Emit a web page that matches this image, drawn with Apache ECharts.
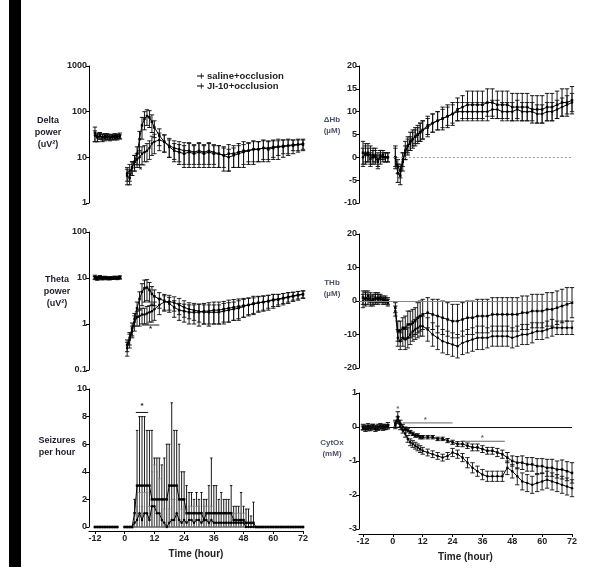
<!DOCTYPE html>
<html><head><meta charset="utf-8">
<script src="https://cdn.jsdelivr.net/npm/echarts@6/dist/echarts.min.js"></script>
<style>html,body{margin:0;padding:0;background:#fff}#c{width:600px;height:581px}</style>
</head><body><div id="c"></div><script>
// ---------- time points ----------
const preHours = [-12,-11,-10,-9,-8,-7,-6,-5,-4,-3,-2];
const postHours = [1,2,3,4,5,6,7,8,9,10,11,12,14,16,18,20,22,24,26,28,30,32,34,36,38,40,42,44,46,48,50,52,54,56,58,60,62,64,66,68,70,72];
const seizurePreHours = [-12,-11,-10,-9,-8,-7,-6,-5,-4,-3];
const seizureHours = [0,1,2,3,4,5,6,7,8,9,10,11,12,13,14,15,16,17,18,19,20,21,22,23,24,25,26,27,28,29,30,31,32,33,34,35,36,37,38,39,40,41,42,43,44,45,46,47,48,49,50,51,52,53,54,55,56,57,58,59,60,61,62,63,64,65,66,67,68,69,70,71,72];
const timeTicks = [-12,0,12,24,36,48,60,72];
const seriesNames = ['saline+occlusion','JI-10+occlusion'];

// ---------- Delta power (uV^2) ----------
const deltaSalinePre = [34,28,30,27,29,28,27,28,29,28,30];
const deltaSalinePreErr = [12,6,5,5,4,4,4,4,4,4,4];
const deltaJIPre = [30,27,29,28,27,29,28,28,27,29,28];
const deltaJIPreErr = [8,5,4,4,4,4,3,3,3,3,3];
const deltaSaline = [4,3.5,6,8,12,25,50,70,80,75,60,45,30,22,17,14,13,12,13,12,13,12,13,12,12,11,12,12,13,14,14,15,15,16,15,16,17,17,18,18,19,19];
const deltaSalineErr = [1.5,1,2,3,5,12,25,30,30,30,25,18,12,9,7,6,6,6,7,6,7,6,7,6,6,6,7,6,7,8,7,8,7,8,7,7,8,7,7,6,6,5];
const deltaJI = [4.5,5,6,8,9,10,12,13,14,16,20,22,24,22,18,16,15,14,14,13,14,13,14,13,12,11,10,11,12,13,14,15,15,16,16,17,17,18,18,19,19,20];
const deltaJIErr = [1.5,2,2,3,3,4,5,5,6,7,9,10,10,9,8,7,7,7,7,6,7,6,7,6,6,5,5,5,6,6,6,7,7,7,7,7,6,6,6,5,5,5];

// ---------- Theta power (uV^2) ----------
const thetaSalinePre = [10.5,10,10.5,10,10.2,10,9.8,10,10.3,10,10.5];
const thetaSalinePreErr = [1,0.8,0.8,0.8,0.7,0.7,0.7,0.7,0.7,0.7,0.7];
const thetaJIPre = [10,9.6,10,9.8,10,9.7,10,9.9,10,9.8,10];
const thetaJIPreErr = [0.8,0.7,0.7,0.7,0.6,0.6,0.6,0.6,0.6,0.6,0.6];
const thetaSaline = [0.35,0.5,0.8,1.3,2.2,3.5,5,6,6.2,5.5,4.5,4,3.5,3.2,2.8,2.3,2,1.9,1.8,1.8,1.8,1.9,1.9,2,2,2.1,2.2,2.3,2.4,2.5,2.6,2.8,2.9,3,3.1,3.3,3.4,3.6,3.8,4,4.2,4.4];
const thetaSalineErr = [0.1,0.15,0.25,0.4,0.8,1.5,2.5,3,3,2.5,2,1.5,1.3,1.2,1,0.9,0.8,0.8,0.8,0.8,0.9,0.9,1,1,1,1,1.1,1.1,1.1,1.1,1.1,1.2,1.1,1.1,1.1,1.1,1,1,1,0.9,0.9,0.8];
const thetaJI = [0.3,0.45,0.7,1.1,1.4,1.5,1.6,1.6,1.7,1.8,1.9,2.1,2.6,3,3.1,2.9,2.6,2.3,2.1,2,1.9,1.8,1.8,1.8,1.8,1.9,2,2.1,2.2,2.4,2.6,2.7,2.9,3,3.2,3.4,3.5,3.7,3.9,4.1,4.3,4.5];
const thetaJIErr = [0.1,0.15,0.2,0.4,0.5,0.6,0.6,0.6,0.7,0.7,0.8,0.9,1,1.1,1.1,1,1,0.9,0.8,0.8,0.8,0.8,0.8,0.8,0.8,0.9,0.9,0.9,1,1,1,1,1,1,1,1,0.9,0.9,0.9,0.8,0.8,0.8];

// ---------- Seizures per hour ----------
const seizureSalinePre = [0,0,0,0,0,0,0,0,0,0];
const seizureJIPre = [0,0,0,0,0,0,0,0,0,0];
const seizurePreErr = [0,0,0,0,0,0,0,0,0,0];
const seizureSaline = [0,0,0,0,1,3,3,3,3,3,3,2,2,2,2,2,2,2,3,3,3,3,2,2,2,1,1,1,1,1,1,1,0.5,1,1,1,1,1,1,1,1,1,1,1,0.5,0.5,0.5,0.5,0.5,0.3,0.3,0.3,0.3,0,0,0,0,0,0,0,0,0,0,0,0,0,0,0,0,0,0,0,0];
const seizureSalineErr = [0,0,0,0,1,4,5,5,5,4,4,5,3,3,3,2.5,3,4,3,6,4,4,4,2,2,2,1.5,1.5,1,1.5,1,1.5,1.5,1,2,4,2,2,1,1.5,1,1,1,2,1,1,1,2,1,1,1,0.5,1.5,0,0,0,0,0,0,0,0,0,0,0,0,0,0,0,0,0,0,0,0];
const seizureJI = [0,0,0,0,0.3,0.5,1,0.5,1,1,0.5,1.5,1.5,1,1,0.5,0.3,0,0.3,0.5,0.5,1,0.5,0.3,0.5,0.3,0.5,0.5,0.3,0.5,0.5,0.3,0.5,0.5,0.3,0.5,0.3,0.3,0.3,0.3,0.3,0.3,0.3,0.3,0.3,0.3,0.3,0.3,0.3,0,0,0,0,0,0,0,0,0,0,0,0,0,0,0,0,0,0,0,0,0,0,0,0];
const seizureJIErr = [0,0,0,0,0.5,1,1.5,1,1.5,1.5,1,2.5,3,3,2.5,1.5,1,0,1,1.5,1.5,2,1.5,1,1,1,1,1,0.7,1,1,0.7,1,1,0.7,1,0.7,0.7,0.7,0.7,0.7,0.7,0.7,0.7,0.7,0.7,0.7,0.7,0.7,0,0,0,0,0,0,0,0,0,0,0,0,0,0,0,0,0,0,0,0,0,0,0,0];

// ---------- ΔHb (µM) ----------
const hbSalinePre = [1,0.5,1,0.5,0,0.5,-0.5,0,0.5,0,0];
const hbSalinePreErr = [2.5,2,2,2,1.5,1.5,1.5,1.5,1,1,1];
const hbJIPre = [0,1,0.5,-0.5,0.5,0,-1,0.5,0,0,0];
const hbJIPreErr = [2,2,1.5,1.5,1.5,1.5,1.5,1,1,1,1];
const hbSaline = [0,-3.5,-4,-1,1.5,2.5,3.5,4,4.5,5,5.5,6,7,7.5,8,8.5,9,9.5,10.5,11,11.5,11.5,11.5,11.5,12,12,11.5,11.5,11.5,11,11,11,11,10.5,10.5,10.5,11,11,11.5,12,12,12.5];
const hbSalineErr = [2.5,2,2,2,2,2,2,2,2,2,2,2,2,2,2,2.5,2.5,2.5,2.5,2.5,3,3,3,3,3,3,3,3,3,3,3,3,3,3,3,3,3,3,3,3,3,3];
const hbJI = [0,-2,-3,-0.5,1,2.5,3,4,4.5,5,5.5,6,6.5,7.5,8,8.5,9,9.5,10,10,10,10,10,10,10,10.5,10.5,10,10,10,10.5,10,10,10,9.5,9.5,10,10,10.5,11,11.5,12];
const hbJIErr = [2,1.5,1.5,1.5,1.5,1.5,1.5,1.5,1.5,1.5,2,2,2,2,2,2,2,2,2,2,2,2,2,2,2,2,2,2,2,2,2,2,2,2,2,2,2,2,2,2,2,2];

// ---------- THb (µM) ----------
const thbSalinePre = [1,0.5,1.5,0,0.5,1,0.5,1,0,0.5,-0.5];
const thbSalinePreErr = [2,2,1.5,1.5,1.5,1.5,1.5,1,1,1,1];
const thbJIPre = [0,1,0.5,1,0,0.5,1,0.5,0.5,0,0];
const thbJIPreErr = [2,2,1.5,1.5,1.5,1.5,1.5,1,1,1,1];
const thbSaline = [-2,-9,-9,-8,-8,-7,-7,-6.5,-6,-5,-4.5,-4,-3.5,-4,-4.5,-5,-5.5,-6,-6,-5.5,-5,-5,-4.5,-4.5,-4.5,-4,-4,-4,-4,-4,-4,-3.5,-3.5,-3,-3,-3,-2.5,-2.5,-2,-1.5,-1,-0.5];
const thbSalineErr = [1.5,3,3,3,3.5,4,4,4,4,4.5,4.5,4.5,4.5,4.5,5,5,5,5,5,5,5,5,5,5,5,5,5,5,5,5,5,5,5,5,5,5,5,5,5,5,5,4.5];
const thbJI = [-3,-11,-12,-11,-11.5,-11,-10,-9,-8.5,-8,-7.5,-7.5,-8.5,-10,-11,-12,-12.5,-13,-13.5,-12.5,-12,-11.5,-11,-11,-11,-10.5,-10.5,-10.5,-10.5,-11,-10.5,-10,-10,-9.5,-9,-9,-8.5,-8,-8,-8,-8,-8];
const thbJIErr = [1.5,2.5,2.5,2.5,3,3,3,3,3,3,3,3,3.5,3.5,3.5,3.5,3.5,3.5,3.5,3.5,3.5,3.5,3.5,3.5,3,3,3,3,3,3,3,3,3,3,2.5,2.5,2.5,2.5,2,2,2,2];

// ---------- CytOx (mM) ----------
const cytSalinePre = [0,-0.05,0.02,-0.03,0,-0.05,0,0.02,-0.02,0,0.05];
const cytSalinePreErr = [0.08,0.08,0.08,0.08,0.08,0.08,0.08,0.08,0.08,0.08,0.08];
const cytJIPre = [-0.03,0,-0.05,0,0.02,-0.02,-0.04,0,0.02,-0.01,0];
const cytJIPreErr = [0.06,0.06,0.06,0.06,0.06,0.06,0.06,0.06,0.06,0.06,0.06];
const cytSaline = [0.1,0.3,0.1,0,-0.05,-0.1,-0.15,-0.2,-0.25,-0.25,-0.3,-0.3,-0.3,-0.3,-0.35,-0.35,-0.4,-0.45,-0.5,-0.5,-0.55,-0.6,-0.6,-0.65,-0.7,-0.7,-0.75,-0.8,-0.9,-1,-1.05,-1.05,-1.1,-1.1,-1.15,-1.15,-1.2,-1.2,-1.25,-1.25,-1.3,-1.35];
const cytSalineErr = [0.1,0.15,0.1,0.08,0.05,0.05,0.05,0.05,0.05,0.05,0.05,0.05,0.05,0.05,0.05,0.05,0.06,0.06,0.07,0.08,0.08,0.1,0.1,0.1,0.1,0.1,0.12,0.12,0.15,0.15,0.18,0.2,0.2,0.2,0.22,0.22,0.25,0.25,0.25,0.28,0.28,0.3];
const cytJI = [0.05,0.2,0,-0.1,-0.2,-0.35,-0.45,-0.5,-0.55,-0.6,-0.65,-0.7,-0.75,-0.8,-0.85,-0.9,-0.85,-0.75,-0.8,-0.9,-1.05,-1.2,-1.3,-1.4,-1.45,-1.45,-1.45,-1.45,-1.2,-1.3,-1.45,-1.6,-1.65,-1.7,-1.65,-1.6,-1.55,-1.6,-1.65,-1.7,-1.75,-1.8];
const cytJIErr = [0.1,0.1,0.08,0.08,0.1,0.1,0.1,0.1,0.1,0.1,0.1,0.1,0.1,0.1,0.1,0.1,0.1,0.12,0.12,0.12,0.15,0.15,0.15,0.15,0.15,0.15,0.15,0.15,0.2,0.2,0.25,0.25,0.25,0.25,0.25,0.25,0.25,0.25,0.25,0.25,0.25,0.25];

// ---------- significance marks [tStart, tEnd, level, starT, starLevel] ----------
const deltaSig = [[4.4, 8.4, 6.8, 6.4, 5.4]];
const thetaSig = [[7, 14, 0.95, 10.5, 0.8]];
const seizureSig = [[4.5, 9.5, 8.3, 7, 8.8]];
const cytSig = [[null, null, null, 2, 0.55], [4, 24, 0.12, 13, 0.22], [28, 45, -0.42, 36, -0.32]];
// baseline (zero) reference lines for haemodynamic panels [tStart, tEnd, level]
const hbBaseline = [0, 72, 0];
const thbBaseline = [-13.6, 72, 0];
const cytBaseline = [-12, 72, 0];

// ================= chart construction =================
const FONT = '"Liberation Sans", Arial, sans-serif';
const LEFT_MIN = -14.4, RIGHT_MIN = -13.6, XMAX = 72;

function errData(hours, mean, err, isLog, floor) {
  const out = [];
  hours.forEach((h, i) => {
    if (!err[i]) return;
    let lo = mean[i] - err[i];
    if (isLog) lo = Math.max(lo, mean[i] * 0.3);
    if (floor !== undefined) lo = Math.max(lo, floor);
    out.push([h, lo, mean[i] + err[i]]);
  });
  return out;
}
function lineData(preH, pre, postH, post) {
  const d = preH.map((h, i) => [h, pre[i]]);
  d.push([-1, '-']);
  postH.forEach((h, i) => d.push([h, post[i]]));
  return d;
}
function errSeries(idx, name, data, color, capW) {
  return {
    type: 'custom', name, xAxisIndex: idx, yAxisIndex: idx, clip: false, silent: true,
    encode: { x: 0, y: [1, 2] }, data, z: 2,
    renderItem: (params, api) => {
      const x = api.value(0);
      const a = api.coord([x, api.value(1)]), b = api.coord([x, api.value(2)]);
      const w = capW;
      const st = { stroke: color, lineWidth: 0.9 };
      return { type: 'group', children: [
        { type: 'line', shape: { x1: a[0], y1: a[1], x2: b[0], y2: b[1] }, style: st },
        { type: 'line', shape: { x1: a[0] - w, y1: a[1], x2: a[0] + w, y2: a[1] }, style: st },
        { type: 'line', shape: { x1: b[0] - w, y1: b[1], x2: b[0] + w, y2: b[1] }, style: st }
      ]};
    }
  };
}
function lineSeries(idx, name, data, symbol, extra) {
  return Object.assign({
    type: 'line', name, xAxisIndex: idx, yAxisIndex: idx, data, connectNulls: false,
    symbol, symbolSize: 2.5, showSymbol: true, z: 3, silent: true,
    lineStyle: { color: '#000', width: 1 }, itemStyle: { color: '#000' }
  }, extra || {});
}
function sigSeries(idx, marks, color) {
  return {
    type: 'custom', xAxisIndex: idx, yAxisIndex: idx, clip: false, silent: true, z: 4,
    data: marks.map((m, i) => [i]),
    renderItem: (params, api) => {
      const m = marks[params.dataIndex];
      const kids = [];
      if (m[0] !== null) {
        const a = api.coord([m[0], m[2]]), b = api.coord([m[1], m[2]]);
        kids.push({ type: 'line', shape: { x1: a[0], y1: a[1], x2: b[0], y2: b[1] }, style: { stroke: color, lineWidth: 1 } });
      }
      const s = api.coord([m[3], m[4]]);
      kids.push({ type: 'text', x: s[0], y: s[1], style: { text: '*', fill: color, font: 'bold 8px ' + FONT, align: 'center', verticalAlign: 'middle' } });
      return { type: 'group', children: kids };
    }
  };
}
function baseline(line, color, type) {
  return { symbol: 'none', silent: true, label: { show: false },
    lineStyle: { color, width: 1, type },
    data: [[{ coord: [line[0], line[2]] }, { coord: [line[1], line[2]] }]] };
}

const panels = [
  { grid: { left: 89, top: 66, width: 214, height: 137 }, xmin: LEFT_MIN, xShow: false,
    y: { type: 'log', min: 1, max: 1000 }, log: true, preH: preHours, postH: postHours, capW: 2.2,
    s: [deltaSalinePre, deltaSalinePreErr, deltaSaline, deltaSalineErr], j: [deltaJIPre, deltaJIPreErr, deltaJI, deltaJIErr], sig: deltaSig, sigColor: '#222' },
  { grid: { left: 89, top: 232, width: 214, height: 138 }, xmin: LEFT_MIN, xShow: false,
    y: { type: 'log', min: 0.1, max: 100 }, log: true, preH: preHours, postH: postHours, capW: 2.2,
    s: [thetaSalinePre, thetaSalinePreErr, thetaSaline, thetaSalineErr], j: [thetaJIPre, thetaJIPreErr, thetaJI, thetaJIErr], sig: thetaSig, sigColor: '#222' },
  { grid: { left: 89, top: 389, width: 214, height: 138 }, xmin: LEFT_MIN, xShow: true, xOffset: 4,
    y: { type: 'value', min: 0, max: 10, interval: 2 }, log: false, floor: 0, preH: seizurePreHours, postH: seizureHours, capW: 1.2,
    s: [seizureSalinePre, seizurePreErr, seizureSaline, seizureSalineErr], j: [seizureJIPre, seizurePreErr, seizureJI, seizureJIErr], sig: seizureSig, sigColor: '#111', jiErrColor: '#777' },
  { grid: { left: 359, top: 66, width: 213, height: 137 }, xmin: RIGHT_MIN, xShow: false,
    y: { type: 'value', min: -10, max: 20, interval: 5 }, log: false, preH: preHours, postH: postHours, capW: 2.2,
    s: [hbSalinePre, hbSalinePreErr, hbSaline, hbSalineErr], j: [hbJIPre, hbJIPreErr, hbJI, hbJIErr], base: baseline(hbBaseline, '#999', [2, 2]) },
  { grid: { left: 359, top: 234, width: 213, height: 134 }, xmin: RIGHT_MIN, xShow: false,
    y: { type: 'value', min: -20, max: 20, interval: 10 }, log: false, preH: preHours, postH: postHours, capW: 2.2,
    s: [thbSalinePre, thbSalinePreErr, thbSaline, thbSalineErr], j: [thbJIPre, thbJIPreErr, thbJI, thbJIErr], base: baseline(thbBaseline, '#888', 'solid') },
  { grid: { left: 359, top: 393, width: 213, height: 136 }, xmin: RIGHT_MIN, xShow: true, xOffset: 5,
    y: { type: 'value', min: -3, max: 1, interval: 1 }, log: false, preH: preHours, postH: postHours, capW: 2.2,
    s: [cytSalinePre, cytSalinePreErr, cytSaline, cytSalineErr], j: [cytJIPre, cytJIPreErr, cytJI, cytJIErr], sig: cytSig, sigColor: '#666', base: baseline(cytBaseline, '#111', 'solid') }
];

const grids = [], xAxes = [], yAxes = [], series = [];
const labelStyle = { fontSize: 9, fontWeight: 'bold', color: '#222', fontFamily: FONT };
panels.forEach((p, i) => {
  grids.push(Object.assign({ containLabel: false }, p.grid));
  xAxes.push({
    gridIndex: i, type: 'value', min: p.xmin, max: XMAX, show: p.xShow, offset: p.xOffset || 0,
    axisLine: { show: true, onZero: false, lineStyle: { color: '#000', width: 1 } },
    axisTick: { show: true, length: 3, customValues: timeTicks, lineStyle: { color: '#000' } },
    axisLabel: Object.assign({ customValues: timeTicks, margin: 3 }, labelStyle),
    splitLine: { show: false },
    name: 'Time (hour)', nameLocation: 'middle', nameGap: 18,
    nameTextStyle: { fontSize: 10, fontWeight: 'bold', color: '#222', fontFamily: FONT }
  });
  yAxes.push(Object.assign({
    gridIndex: i,
    axisLine: { show: true, onZero: false, lineStyle: { color: '#000', width: 1 } },
    axisTick: { show: true, length: 3, lineStyle: { color: '#000' } },
    axisLabel: Object.assign({ margin: 2, formatter: v => String(+Number(v).toPrecision(4)) }, labelStyle),
    splitLine: { show: false }, minorTick: { show: false }
  }, p.y));
  const jiErrColor = p.jiErrColor || '#111';
  series.push(errSeries(i, seriesNames[0], errData(p.preH, p.s[0], p.s[1], p.log, p.floor).concat(errData(p.postH, p.s[2], p.s[3], p.log, p.floor)), '#000', p.capW));
  series.push(errSeries(i, seriesNames[1], errData(p.preH, p.j[0], p.j[1], p.log, p.floor).concat(errData(p.postH, p.j[2], p.j[3], p.log, p.floor)), jiErrColor, p.capW));
  const ls = lineSeries(i, seriesNames[0], lineData(p.preH, p.s[0], p.postH, p.s[2]), 'rect');
  if (p.base) ls.markLine = p.base;
  series.push(ls);
  series.push(lineSeries(i, seriesNames[1], lineData(p.preH, p.j[0], p.postH, p.j[2]), 'circle'));
  if (p.sig) series.push(sigSeries(i, p.sig, p.sigColor));
});

function nameText(x, y, lines, color, size) {
  return { type: 'text', x, y, style: { text: lines.join('\n'), fill: color, font: 'bold ' + size + 'px ' + FONT, align: 'center', verticalAlign: 'middle', lineHeight: size + 3 } };
}

const option = {
  animation: false,
  backgroundColor: '#fff',
  grid: grids, xAxis: xAxes, yAxis: yAxes, series,
  legend: {
    data: seriesNames.map(n => ({ name: n, icon: 'path://M0,4H9V5H0Z M5,1H6V8H5Z' })),
    orient: 'vertical', left: 197, top: 71, padding: 0, itemWidth: 7, itemHeight: 6, itemGap: 0,
    selectedMode: false, inactiveColor: '#000',
    itemStyle: { color: '#000' },
    textStyle: { fontSize: 9.5, fontWeight: 'bold', color: '#222', fontFamily: FONT, padding: [0, 0, 0, -2] }
  },
  graphic: [
    { type: 'rect', shape: { x: 9, y: 0, width: 12, height: 567 }, style: { fill: '#000' }, silent: true },
    nameText(48, 133, ['Delta', 'power', '(uV²)'], '#1c1c2c', 9),
    nameText(57, 292, ['Theta', 'power', '(uV²)'], '#1c1c2c', 9),
    nameText(57, 447, ['Seizures', 'per hour'], '#1c1c2c', 9),
    nameText(332, 125, ['ΔHb', '(µM)'], '#4a5266', 8),
    nameText(332, 288, ['THb', '(µM)'], '#4a5266', 8),
    nameText(332, 448, ['CytOx', '(mM)'], '#4a5266', 8)
  ]
};
const chart = echarts.init(document.getElementById('c'), null, { renderer: 'canvas' });
chart.setOption(option);
</script></body></html>
